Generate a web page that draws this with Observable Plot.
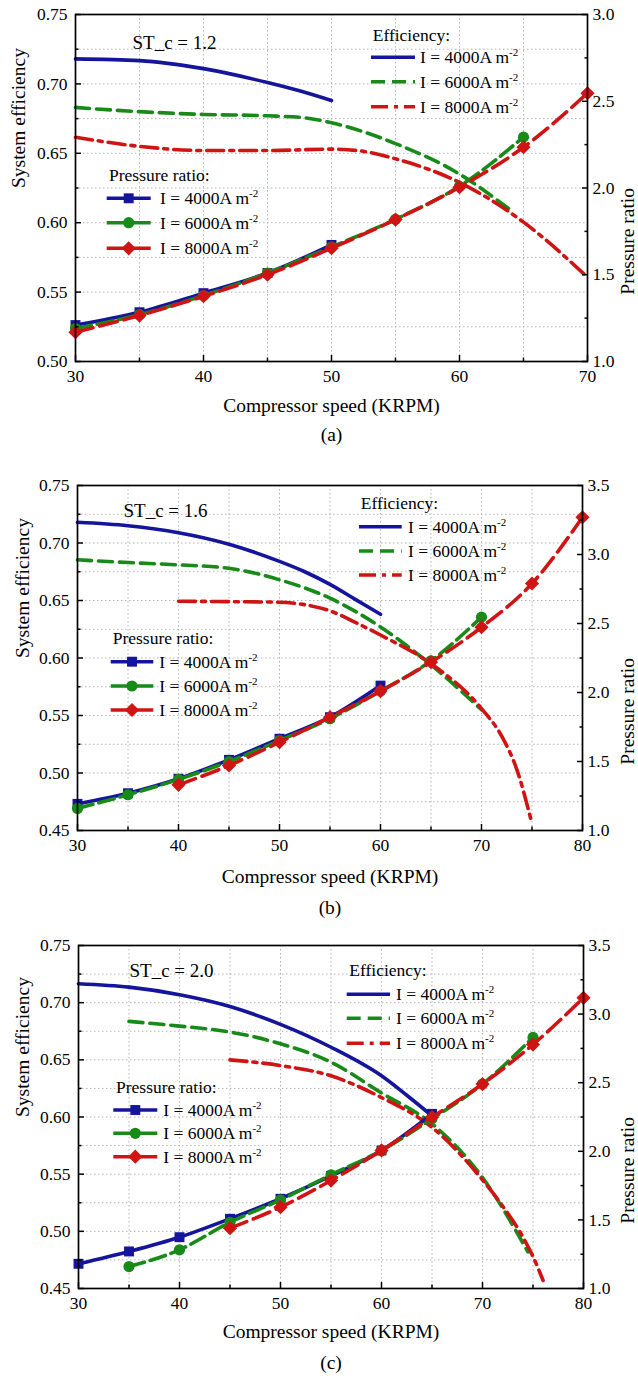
<!DOCTYPE html>
<html><head><meta charset="utf-8">
<script src="https://cdn.jsdelivr.net/npm/d3@7"></script>
<script src="https://cdn.jsdelivr.net/npm/@observablehq/plot@0.6"></script>
<style>
html,body{margin:0;padding:0;background:#fff;}
#wrap{position:relative;width:638px;height:1379px;overflow:hidden;background:#fff;}
.panel{position:absolute;left:0;width:638px;}
</style></head><body><div id="wrap"></div>
<script>
// ---------- texts & ticks ----------
const currents = ["I = 4000A m", "I = 6000A m", "I = 8000A m"];
const unitSup = "-2";
const stLabels = ["ST_c = 1.2", "ST_c = 1.6", "ST_c = 2.0"];
const captions = ["(a)", "(b)", "(c)"];
const xTitle = "Compressor speed (KRPM)";
const yTitle = "System efficiency";
const y2Title = "Pressure ratio";
const effHeader = "Efficiency:";
const prHeader = "Pressure ratio:";

const speedTicksA = [30, 40, 50, 60, 70];
const effTicksA = [0.50, 0.55, 0.60, 0.65, 0.70, 0.75];
const prTicksA = [1.0, 1.5, 2.0, 2.5, 3.0];
const speedTicksBC = [30, 40, 50, 60, 70, 80];
const effTicksBC = [0.45, 0.50, 0.55, 0.60, 0.65, 0.70, 0.75];
const prTicksBC = [1.0, 1.5, 2.0, 2.5, 3.0, 3.5];

// ---------- panel (a): ST_c = 1.2 ----------
const effA4000Speed = [30, 35, 40, 45, 47.5, 50];
const effA4000 = [0.718, 0.7168, 0.711, 0.701, 0.695, 0.688];
const effA6000Speed = [30, 35, 40, 45, 48, 50, 55, 60, 64];
const effA6000 = [0.683, 0.680, 0.678, 0.677, 0.6755, 0.672, 0.657, 0.635, 0.609];
const effA8000Speed = [30, 35, 40, 45, 50, 52, 55, 60, 65, 70];
const effA8000 = [0.6616, 0.655, 0.652, 0.652, 0.653, 0.652, 0.646, 0.629, 0.6004, 0.5607];
const prA4000Speed = [30, 35, 40, 45, 50];
const prA4000 = [1.21, 1.284, 1.394, 1.51, 1.672];
const prA6000Speed = [30, 35, 40, 45, 50, 55, 60, 65];
const prA6000 = [1.19, 1.27, 1.38, 1.51, 1.66, 1.82, 2.01, 2.293];
const prA8000Speed = [30, 35, 40, 45, 50, 55, 60, 65, 70];
const prA8000 = [1.169, 1.265, 1.376, 1.50, 1.653, 1.818, 2.005, 2.235, 2.546];

// ---------- panel (b): ST_c = 1.6 ----------
const effB4000Speed = [30, 35, 40, 45, 50, 52.5, 55, 57.5, 60];
const effB4000 = [0.718, 0.715, 0.709, 0.699, 0.684, 0.675, 0.664, 0.651, 0.638];
const effB6000Speed = [30, 35, 40, 45, 50, 55, 60, 65, 70];
const effB6000 = [0.6854, 0.683, 0.681, 0.678, 0.668, 0.652, 0.627, 0.594, 0.555];
const effB8000Speed = [40, 45, 50, 52, 55, 57.5, 60, 65, 70, 72, 73.5, 75];
const effB8000 = [0.6494, 0.649, 0.6485, 0.647, 0.641, 0.631, 0.620, 0.595, 0.556, 0.532, 0.503, 0.456];
const prB4000Speed = [30, 35, 40, 45, 50, 55, 60];
const prB4000 = [1.193, 1.27, 1.375, 1.512, 1.665, 1.821, 2.05];
const prB6000Speed = [30, 35, 40, 45, 50, 55, 60, 65, 70];
const prB6000 = [1.16, 1.259, 1.37, 1.50, 1.652, 1.81, 2.01, 2.23, 2.546];
const prB8000Speed = [40, 45, 50, 55, 60, 65, 70, 75, 80];
const prB8000 = [1.331, 1.471, 1.64, 1.821, 2.01, 2.22, 2.473, 2.79, 3.27];

// ---------- panel (c): ST_c = 2.0 ----------
const effC4000Speed = [30, 35, 40, 45, 50, 55, 60, 62.5, 65];
const effC4000 = [0.7166, 0.7136, 0.707, 0.6967, 0.681, 0.661, 0.636, 0.619, 0.601];
const effC6000Speed = [35, 40, 45, 50, 55, 60, 65, 70, 74.5];
const effC6000 = [0.6836, 0.6795, 0.6743, 0.664, 0.648, 0.621, 0.594, 0.547, 0.482];
const effC8000Speed = [45, 50, 55, 60, 65, 70, 72, 74, 75, 76];
const effC8000 = [0.650, 0.645, 0.636, 0.617, 0.591, 0.545, 0.522, 0.495, 0.478, 0.457];
const prC4000Speed = [30, 35, 40, 45, 50, 55, 60, 65];
const prC4000 = [1.18, 1.27, 1.374, 1.508, 1.654, 1.82, 2.006, 2.273];
const prC6000Speed = [35, 40, 45, 50, 55, 60, 65, 70, 75];
const prC6000 = [1.16, 1.282, 1.483, 1.646, 1.829, 2.006, 2.237, 2.49, 2.83];
const prC8000Speed = [45, 50, 55, 60, 65, 70, 75, 80];
const prC8000 = [1.44, 1.593, 1.787, 2.006, 2.249, 2.49, 2.778, 3.119];

// ---------- styles ----------
const FONT = "Liberation Serif, Times New Roman, serif";
const colors = ["#15159c", "#178a17", "#d01414"];
const effDash = [null, "14,7", "17,6,4,6"];
const prDash = [null, "16,6", "18,7"];
const symbols = ["square", "circle", "diamond2"];
const symbolR = [5.6, 5.6, 6.4];
const d3Symbols = [d3.symbolSquare, d3.symbolCircle, d3.symbolDiamond2];
const LINE_W = 3.6;
const TICK_FS = 17.5, TITLE_FS = 19.5, LEG_FS = 17.5;

// layout positions are relative to each panel's own top-left corner
const panels = [
  {
    tag: 0, speedTicks: speedTicksA, effTicks: effTicksA, prTicks: prTicksA,
    eff: [[effA4000Speed, effA4000], [effA6000Speed, effA6000], [effA8000Speed, effA8000]],
    pr: [[prA4000Speed, prA4000], [prA6000Speed, prA6000], [prA8000Speed, prA8000]],
    layout: {top: 0, height: 471, mt: 14, mb: 110, ml: 75, mr: 51, titleDy: 50, capDy: 79,
      leftDx: -57, rightDx: 40, stDx: 57, stDy: 21,
      eff: {hx: 372.7, hy: 35, rows: [57.3, 81.7, 106.7], x1: 371, x2: 415, tx: 420},
      pr: {hx: 109, hy: 175, rows: [198.3, 222.7, 248.3], x1: 106.7, x2: 150.7, tx: 160}}
  },
  {
    tag: 1, speedTicks: speedTicksBC, effTicks: effTicksBC, prTicks: prTicksBC,
    eff: [[effB4000Speed, effB4000], [effB6000Speed, effB6000], [effB8000Speed, effB8000]],
    pr: [[prB4000Speed, prB4000], [prB6000Speed, prB6000], [prB8000Speed, prB8000]],
    layout: {top: 471, height: 460, mt: 14, mb: 101, ml: 77, mr: 56, titleDy: 52, capDy: 83,
      leftDx: -55, rightDx: 45, stDx: 46, stDy: 18,
      eff: {hx: 360.7, hy: 32.3, rows: [55.7, 80, 104], x1: 359, x2: 401.7, tx: 408},
      pr: {hx: 112.7, hy: 166.7, rows: [190.7, 215, 239], x1: 110.7, x2: 153.3, tx: 159.3}}
  },
  {
    tag: 2, speedTicks: speedTicksBC, effTicks: effTicksBC, prTicks: prTicksBC,
    eff: [[effC4000Speed, effC4000], [effC6000Speed, effC6000], [effC8000Speed, effC8000]],
    pr: [[prC4000Speed, prC4000], [prC6000Speed, prC6000], [prC8000Speed, prC8000]],
    layout: {top: 931, height: 448, mt: 14, mb: 91, ml: 78, mr: 55, titleDy: 49, capDy: 80,
      leftDx: -56, rightDx: 44, stDx: 51, stDy: 18,
      eff: {hx: 349.3, hy: 39, rows: [63.3, 87.3, 112.3], x1: 346.7, x2: 390, tx: 396},
      pr: {hx: 116, hy: 155.7, rows: [179, 202.3, 225.7], x1: 113.3, x2: 157.3, tx: 163.3}}
  }
];

const mids = (a) => d3.pairs(a).map(([p, q]) => (p + q) / 2);

function legendLabel(g, x, y, label) {
  const t = g.append("text").attr("x", x).attr("y", y + 6).attr("font-size", LEG_FS).attr("fill", "black");
  t.append("tspan").text(label);
  t.append("tspan").attr("dy", -7).attr("font-size", 11).text(unitSup);
}

function makePanel(cfg) {
  const L = cfg.layout;
  const xs = cfg.speedTicks, es = cfg.effTicks, ps = cfg.prTicks;
  const e0 = es[0], e1 = es[es.length - 1], p0 = ps[0], p1 = ps[ps.length - 1];
  const toEff = (p) => e0 + (p - p0) / (p1 - p0) * (e1 - e0);
  const fromEff = (e) => p0 + (e - e0) / (e1 - e0) * (p1 - p0);

  const effSeries = cfg.eff.map(([sx, sy]) => sx.map((x, i) => ({x, y: sy[i]})));
  const prSeries = cfg.pr.map(([sx, sy]) => sx.map((x, i) => ({x, y: toEff(sy[i])})));

  const xMinor = mids(xs), eMinor = mids(es), pMinor = mids(ps);
  const gridStyle = {stroke: "#b4b4b4", strokeOpacity: 1, strokeWidth: 1, strokeDasharray: "1.5,2.5"};
  const marks = [
    Plot.gridX([...xs, ...xMinor], gridStyle),
    Plot.gridY([...es, ...eMinor], gridStyle)
  ];
  effSeries.forEach((s, k) => marks.push(Plot.line(s, {x: "x", y: "y", stroke: colors[k], strokeWidth: LINE_W,
    strokeDasharray: effDash[k], curve: "monotone-x"})));
  prSeries.forEach((s, k) => {
    marks.push(Plot.line(s, {x: "x", y: "y", stroke: colors[k], strokeWidth: LINE_W,
      strokeDasharray: prDash[k], curve: "monotone-x"}));
    marks.push(Plot.dot(s, {x: "x", y: "y", symbol: symbols[k], r: symbolR[k], fill: colors[k], stroke: "none"}));
  });
  const tf = {fontFamily: FONT};
  marks.push(
    Plot.frame({stroke: "black", strokeWidth: 1.7}),
    Plot.axisX(xs, {...tf, anchor: "bottom", tickSize: -6, tickPadding: 14, fontSize: TICK_FS, tickFormat: (d) => String(d), label: null, strokeWidth: 1.5}),
    Plot.axisX(xMinor, {anchor: "bottom", tickSize: -3.5, tickFormat: () => "", label: null, strokeWidth: 1.5}),
    Plot.axisY(es, {...tf, anchor: "left", tickSize: -6, tickPadding: 14, fontSize: TICK_FS, tickFormat: d3.format(".2f"), label: null, strokeWidth: 1.5}),
    Plot.axisY(eMinor, {anchor: "left", tickSize: -3.5, tickFormat: () => "", label: null, strokeWidth: 1.5}),
    Plot.axisY(ps.map(toEff), {...tf, anchor: "right", tickSize: -6, tickPadding: 11, fontSize: TICK_FS, tickFormat: (e) => fromEff(e).toFixed(1), label: null, strokeWidth: 1.5}),
    Plot.axisY(pMinor.map(toEff), {anchor: "right", tickSize: -3.5, tickFormat: () => "", label: null, strokeWidth: 1.5}),
    Plot.text([xTitle], {...tf, text: (d) => d, frameAnchor: "bottom", dy: L.titleDy, fontSize: TITLE_FS}),
    Plot.text([captions[cfg.tag]], {...tf, text: (d) => d, frameAnchor: "bottom", dy: L.capDy, fontSize: TITLE_FS}),
    Plot.text([yTitle], {...tf, text: (d) => d, frameAnchor: "left", rotate: -90, dx: L.leftDx, fontSize: TITLE_FS}),
    Plot.text([y2Title], {...tf, text: (d) => d, frameAnchor: "right", rotate: -90, dx: L.rightDx, fontSize: TITLE_FS}),
    Plot.text([stLabels[cfg.tag]], {...tf, text: (d) => d, frameAnchor: "top-left", textAnchor: "start", dx: L.stDx, dy: L.stDy, fontSize: 19})
  );

  const svg = Plot.plot({
    width: 638, height: L.height,
    marginTop: L.mt, marginBottom: L.mb, marginLeft: L.ml, marginRight: L.mr,
    style: `font-family: ${FONT}; font-size: 17px; color: black; background: white; overflow: visible;`,
    x: {domain: [xs[0], xs[xs.length - 1]], label: null},
    y: {domain: [e0, e1], label: null},
    marks
  });

  // legends (pixel layout inside the frame, relative to this panel)
  const g = d3.select(svg).append("g").attr("font-family", FONT).attr("text-anchor", "start");
  g.append("text").attr("x", L.eff.hx).attr("y", L.eff.hy + 6).attr("font-size", LEG_FS).text(effHeader);
  L.eff.rows.forEach((y, k) => {
    g.append("line").attr("x1", L.eff.x1).attr("x2", L.eff.x2).attr("y1", y).attr("y2", y)
      .attr("stroke", colors[k]).attr("stroke-width", LINE_W).attr("stroke-dasharray", effDash[k]);
    legendLabel(g, L.eff.tx, y, currents[k]);
  });
  g.append("text").attr("x", L.pr.hx).attr("y", L.pr.hy + 6).attr("font-size", LEG_FS).text(prHeader);
  L.pr.rows.forEach((y, k) => {
    g.append("line").attr("x1", L.pr.x1).attr("x2", L.pr.x2).attr("y1", y).attr("y2", y)
      .attr("stroke", colors[k]).attr("stroke-width", LINE_W);
    const size = Math.PI * symbolR[k] * symbolR[k];
    g.append("path").attr("d", d3.symbol().type(d3Symbols[k]).size(size)())
      .attr("transform", `translate(${(L.pr.x1 + L.pr.x2) / 2},${y})`).attr("fill", colors[k]);
    legendLabel(g, L.pr.tx, y, currents[k]);
  });

  const div = document.createElement("div");
  div.className = "panel";
  div.style.top = L.top + "px";
  div.style.height = L.height + "px";
  div.appendChild(svg);
  return div;
}

const wrap = document.getElementById("wrap");
panels.forEach((p) => wrap.appendChild(makePanel(p)));
</script>
</body></html>
